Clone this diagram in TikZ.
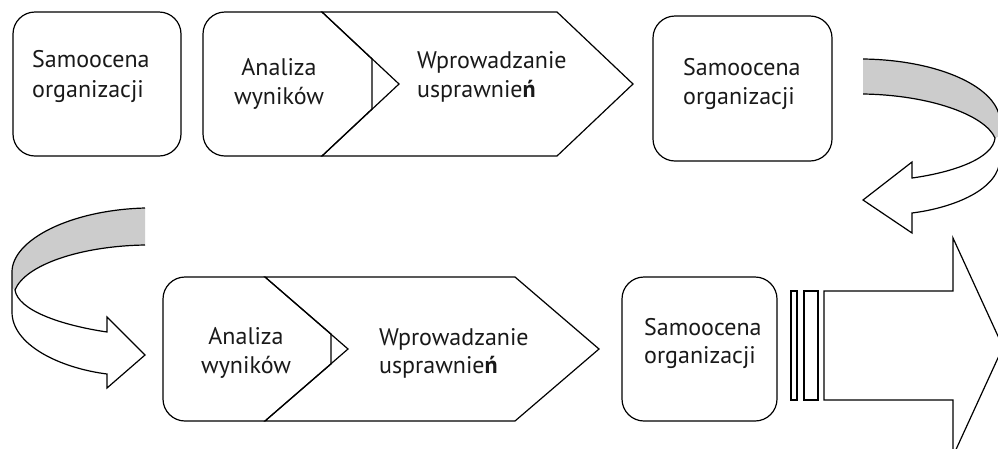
\documentclass[tikz,border=0pt]{standalone}
\usepackage{fontspec}
\newfontfamily\lblfont{PT Sans}
\tikzset{
  shp/.style={draw=black, line width=1.2pt, line join=miter, fill=white},
  outl/.style={draw=black, line width=1.2pt, line join=miter},
  band/.style={fill=black!20},
  lbl/.style={inner sep=0pt, font={\lblfont\fontsize{24}{28}\selectfont}, text=black!90}
}
\begin{document}
\begin{tikzpicture}[x=1pt,y=-1pt]
\clip (0,0) rectangle (998,448);
\fill[white] (0,0) rectangle (998,448);

% ---------- top row ----------
\draw[shp, rounded corners=22pt] (13,12) rectangle (181,156);
\node[lbl, anchor=base west] (s1a) at (32,67) {Samoocena};
\node[lbl, anchor=base west] (s1b) at (32,97) {organizacji};

% Wprowadzanie (top)
\draw[shp] (322,12) -- (557,12) -- (633,84) -- (557,156) -- (322,156) -- (372,109) -- (372,59) -- cycle;
% Analiza (top)
\draw[outl] (225,12) -- (322,12) -- (399,84) -- (322,156) -- (225,156)
  .. controls (212.9,156) and (203,146.1) .. (203,134) -- (203,34)
  .. controls (203,21.9) and (212.9,12) .. (225,12) -- cycle;
\node[lbl, anchor=base] (a1a) at (279,75) {Analiza};
\node[lbl, anchor=base] (a1b) at (279,104) {wyników};
\node[lbl, anchor=base west] (w1a) at (417,68) {Wprowadzanie};
\node[lbl, anchor=base west] (w1b) at (417,97) {usprawnie{\bfseries ń}};

\draw[shp, rounded corners=22pt] (653,16) rectangle (832,161);
\node[lbl, anchor=base west] (s2a) at (683,75) {Samoocena};
\node[lbl, anchor=base west] (s2b) at (683,104) {organizacji};

% curved arrow top right
\fill[band] (863,59) .. controls (940,60) and (1000,88) .. (1000,122) -- (1000,136) -- (995,138)
  .. controls (985,115) and (930,95) .. (863,94) -- cycle;
\draw[outl] (863,59) .. controls (940,60) and (1000,88) .. (1000,122) -- (1000,158)
  .. controls (1000,190) and (952,208) .. (912,213) -- (912,233) -- (863,200) -- (912,162) -- (912,178)
  .. controls (955,172) and (993,158) .. (995,138)
  .. controls (985,115) and (930,95) .. (863,94);

% ---------- bottom row ----------
% curved arrow bottom left
\fill[band] (145,208) .. controls (70,210) and (12,240) .. (12,272) -- (12,288) -- (15,290)
  .. controls (25,265) and (80,246) .. (145,245) -- cycle;
\draw[outl] (145,208) .. controls (70,210) and (12,240) .. (12,272) -- (12,312)
  .. controls (12,345) and (60,368) .. (107,374) -- (107,388) -- (145,355) -- (107,317) -- (107,332)
  .. controls (60,325) and (18,310) .. (15,290)
  .. controls (25,265) and (80,246) .. (145,245);

% Wprowadzanie (bottom)
\draw[shp] (265,277) -- (515,277) -- (599,349) -- (515,421) -- (265,421) -- (331,364) -- (331,334) -- cycle;
% Analiza (bottom)
\draw[outl] (185,277) -- (265,277) -- (348,349) -- (265,421) -- (185,421)
  .. controls (172.9,421) and (163,411.1) .. (163,399) -- (163,299)
  .. controls (163,286.9) and (172.9,277) .. (185,277) -- cycle;
\node[lbl, anchor=base] (a2a) at (246,344) {Analiza};
\node[lbl, anchor=base] (a2b) at (246,373) {wyników};
\node[lbl, anchor=base west] (w2a) at (379,345) {Wprowadzanie};
\node[lbl, anchor=base west] (w2b) at (379,373) {usprawnie{\bfseries ń}};

\draw[shp, rounded corners=22pt] (622,277) rectangle (777,421);
\node[lbl, anchor=base west] (s3a) at (644,335) {Samoocena};
\node[lbl, anchor=base west] (s3b) at (644,363) {organizacji};

% striped big arrow
\draw[shp] (791,291) rectangle (797,400);
\draw[shp] (804,291) rectangle (818,400);
\draw[shp] (824,291) -- (953,291) -- (953,238) -- (1003,347) -- (953,456) -- (953,400) -- (824,400) -- cycle;
\end{tikzpicture}
\end{document}
